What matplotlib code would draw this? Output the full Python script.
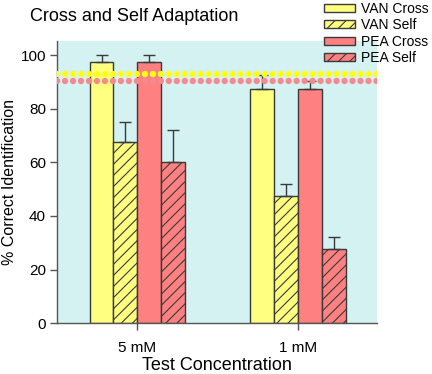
import numpy as np
import matplotlib
matplotlib.use("Agg")
import matplotlib.pyplot as plt
from matplotlib.patches import Patch

plt.rcParams["font.family"] = ["Liberation Sans", "DejaVu Sans"]

# ---------------------------------------------------------------------------
# Données
# ---------------------------------------------------------------------------
concentrations = ["5 mM", "1 mM"]
series_names   = ["VAN Cross", "VAN Self", "PEA Cross", "PEA Self"]
van_cross      = [97.5, 87.5]
van_self       = [67.5, 47.5]
pea_cross      = [97.5, 87.5]
pea_self       = [60.0, 27.5]
van_cross_err  = [2.5, 5.0]
van_self_err   = [7.5, 4.5]
pea_cross_err  = [2.5, 3.0]
pea_self_err   = [12.0, 4.5]
van_baseline   = 93.0
pea_baseline   = 90.2

YELLOW = "#FFFF80"
PINK   = "#FF8080"
EDGE   = "#3a3a3a"
BG     = "#D4F2F2"

fig = plt.figure(figsize=(4.32, 3.74), dpi=100)
ax = fig.add_axes([0.132, 0.136, 0.741, 0.754])
ax.set_facecolor(BG)

x = np.arange(len(concentrations))
width = 0.149
values = [van_cross, van_self, pea_cross, pea_self]
errors = [van_cross_err, van_self_err, pea_cross_err, pea_self_err]
colors = [YELLOW, YELLOW, PINK, PINK]
hatches = [None, "///", None, "///"]
offsets = [-1.5, -0.5, 0.5, 1.5]

plt.rcParams["hatch.linewidth"] = 0.8
for vals, errs, col, hat, off in zip(values, errors, colors, hatches, offsets):
    ax.bar(x + off * width, vals, width, color=col, edgecolor=EDGE,
           linewidth=1.0, hatch=hat, zorder=2)
    ax.errorbar(x + off * width, vals, yerr=[np.zeros(len(errs)), errs],
                fmt="none", ecolor=EDGE, elinewidth=1.0, capsize=4,
                capthick=1.0, zorder=3)

# lignes pointillées de référence (points ronds)
ax.axhline(pea_baseline, color="#F58A8E", linewidth=4.6,
           linestyle=(0, (0.01, 1.24)), dash_capstyle="round", zorder=4)
ax.axhline(van_baseline, color="#FFFF1A", linewidth=4.6,
           linestyle=(0, (0.01, 1.24)), dash_capstyle="round", zorder=4)

ax.set_xlim(-0.5, 1.49)
ax.set_ylim(0, 105.2)
ax.set_xticks(x)
ax.set_xticklabels(concentrations, fontsize=11)
ax.set_yticks([0, 20, 40, 60, 80, 100])
ax.tick_params(axis="y", labelsize=11, length=5, width=1, color="#555555",
               direction="out", pad=3)
ax.tick_params(axis="x", length=5, width=1, color="#555555", direction="out", pad=8)
for s in ["top", "right"]:
    ax.spines[s].set_visible(False)
for s in ["left", "bottom"]:
    ax.spines[s].set_color("#555555")
    ax.spines[s].set_linewidth(1.0)

ax.set_xlabel("Test Concentration", fontsize=13, labelpad=1)
ax.set_ylabel("% Correct Identification", fontsize=11.5)
ax.yaxis.set_label_coords(-0.125, 0.5)
fig.text(0.069, 0.955, "Cross and Self Adaptation", fontsize=13, va="center", ha="left")

handles = [Patch(facecolor=c, edgecolor=EDGE, hatch=h, linewidth=1.0)
           for c, h in zip(colors, hatches)]
fig.legend(handles, series_names, loc="upper left",
           bbox_to_anchor=(0.736, 1.01), frameon=False, fontsize=10,
           handlelength=2.3, handleheight=0.5, labelspacing=0.18,
           handletextpad=0.38, borderaxespad=0)

fig.savefig("out.png", dpi=100)
